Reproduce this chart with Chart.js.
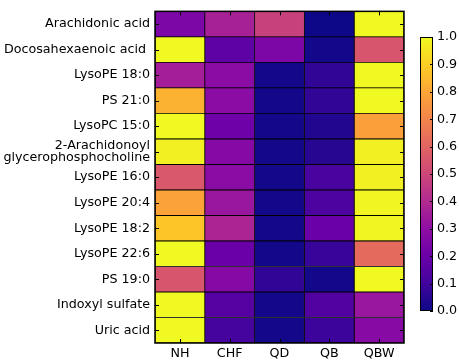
<!DOCTYPE html>
<html><head><meta charset="utf-8">
<script src="https://cdn.jsdelivr.net/npm/chart.js@4/dist/chart.umd.min.js"></script>
<style>
html,body{margin:0;padding:0;background:#fff;}
#wrap{position:relative;width:459px;height:363px;}
canvas{position:absolute;left:0;top:0;}
</style></head>
<body><div id="wrap"><canvas id="main" width="459" height="363"></canvas><canvas id="cbar" width="459" height="363"></canvas></div>
<script>
const rowLabels = ["Arachidonic acid","Docosahexaenoic acid ","LysoPE 18:0","PS 21:0","LysoPC 15:0",
  ["2-Arachidonoyl","glycerophosphocholine"],"LysoPE 16:0","LysoPE 20:4","LysoPE 18:2","LysoPE 22:6",
  "PS 19:0","Indoxyl sulfate","Uric acid"];
const columns = ["NH","CHF","QD","QB","QBW"];
const NH  = [0.25,1.00,0.36,0.83,1.00,0.98,0.56,0.79,0.88,1.00,0.55,1.00,1.00];
const CHF = [0.37,0.17,0.29,0.29,0.21,0.27,0.29,0.33,0.38,0.20,0.27,0.15,0.11];
const QD  = [0.48,0.25,0.01,0.01,0.01,0.01,0.01,0.01,0.01,0.01,0.07,0.01,0.01];
const QB  = [0.00,0.01,0.07,0.07,0.04,0.05,0.12,0.13,0.20,0.08,0.01,0.14,0.09];
const QBW = [1.00,0.55,1.00,1.00,0.78,0.98,0.98,0.99,0.99,0.62,1.00,0.33,0.28];
const colorbarTicks = [0,0.1,0.2,0.3,0.4,0.5,0.6,0.7,0.8,0.9,1.0];

const columnValues = [NH, CHF, QD, QB, QBW];
const plasmaStops = [[13,8,135],[65,4,157],[106,0,168],[143,13,164],[177,42,144],[204,71,120],
  [225,100,98],[242,132,75],[252,166,54],[252,206,37],[240,249,33]];
function plasma(v){
  v = Math.max(0, Math.min(1, v));
  const p = v*10, i = Math.min(9, Math.floor(p)), t = p - i;
  const a = plasmaStops[i], b = plasmaStops[i+1];
  const c = a.map((x,k)=>Math.round(x + (b[k]-x)*t));
  return `rgb(${c[0]},${c[1]},${c[2]})`;
}
const FONT = {family:"'DejaVu Sans', sans-serif", size:12.7, lineHeight:1.0};
Chart.defaults.font = FONT;
Chart.defaults.color = '#000';

const keys = rowLabels.map((l,i)=>'r'+i);
const datasets = columnValues.map((vals,j)=>({
  label: columns[j],
  data: vals.map((v,i)=>({y: keys[i], x:[j, j+1], v})),
  backgroundColor: vals.map(plasma),
  borderColor: '#000', borderWidth: 0.8, borderSkipped: false,
  barPercentage: 1, categoryPercentage: 1
}));

const frameTicks = {
  id:'frameTicks',
  afterDatasetsDraw(chart){
    const {ctx, chartArea:a, scales} = chart;
    ctx.save();
    ctx.strokeStyle = '#000'; ctx.lineWidth = 1;
    ctx.beginPath();
    keys.forEach((k,i)=>{
      const y = Math.round(scales.y.getPixelForValue(i))+0.5;
      ctx.moveTo(a.left, y); ctx.lineTo(a.left+4, y);
      ctx.moveTo(a.right, y); ctx.lineTo(a.right-4, y);
    });
    columns.forEach((c,j)=>{
      const x = Math.round(scales.x.getPixelForValue(j+0.5))+0.5;
      ctx.moveTo(x, a.top); ctx.lineTo(x, a.top+4);
      ctx.moveTo(x, a.bottom); ctx.lineTo(x, a.bottom-4);
    });
    ctx.stroke();
    ctx.lineWidth = 1.5;
    ctx.strokeRect(a.left, a.top, a.right-a.left, a.bottom-a.top);
    ctx.restore();
  }
};

new Chart(document.getElementById('main'), {
  type:'bar',
  data:{labels: keys, datasets},
  options:{
    indexAxis:'y', responsive:false, animation:false,
    layout:{padding:{left:0, top:4, right:55, bottom:0}},
    plugins:{legend:{display:false}, tooltip:{enabled:false}},
    scales:{
      y:{type:'category', stacked:true, offset:true,
         grid:{display:false, drawTicks:false}, border:{display:false},
         ticks:{padding:5, autoSkip:false, font:FONT, color:'#000', callback:(v,i)=>rowLabels[i]},
         afterFit:s=>{s.width=155;}},
      x:{type:'linear', stacked:false, min:0, max:5, display:false},
      x2:{type:'category', labels:columns, position:'bottom', offset:true,
         grid:{display:false, drawTicks:false}, border:{display:false},
         ticks:{padding:4, font:FONT, color:'#000'},
         afterFit:s=>{s.height=20;}}
    }
  },
  plugins:[frameTicks]
});

const cbTicks = {
  id:'cbTicks',
  afterDatasetsDraw(chart){
    const {ctx, chartArea:a, scales} = chart;
    ctx.save(); ctx.strokeStyle='#000'; ctx.lineWidth=1;
    ctx.beginPath();
    colorbarTicks.forEach(t=>{
      const y = Math.round(scales.y.getPixelForValue(t))+0.5;
      ctx.moveTo(a.right, y); ctx.lineTo(a.right-3, y);
    });
    ctx.stroke();
    ctx.strokeRect(a.left+0.5, a.top+0.5, a.right-a.left-1, a.bottom-a.top-1);
    ctx.restore();
  }
};
new Chart(document.getElementById('cbar'), {
  type:'bar',
  data:{labels:['c'], datasets:[{data:[[0,1]],
    backgroundColor:(c)=>{
      const a = c.chart.chartArea; if(!a) return '#000';
      const g = c.chart.ctx.createLinearGradient(0, a.bottom, 0, a.top);
      plasmaStops.forEach((s,i)=>g.addColorStop(i/10, `rgb(${s[0]},${s[1]},${s[2]})`));
      return g;
    },
    borderWidth:0, barPercentage:1, categoryPercentage:1}]},
  options:{
    responsive:false, animation:false,
    layout:{padding:{left:420, top:37, right:0, bottom:52}},
    plugins:{legend:{display:false}, tooltip:{enabled:false}},
    scales:{
      x:{display:false},
      y:{position:'right', min:0, max:1, afterBuildTicks:s=>{s.ticks=colorbarTicks.map(v=>({value:v}));},
         grid:{display:false, drawTicks:false}, border:{display:false},
         ticks:{padding:4, font:FONT, color:'#000', callback:v=>Number(v).toFixed(1)},
         afterFit:s=>{s.width=26;}}
    }
  },
  plugins:[cbTicks]
});
</script></body></html>
